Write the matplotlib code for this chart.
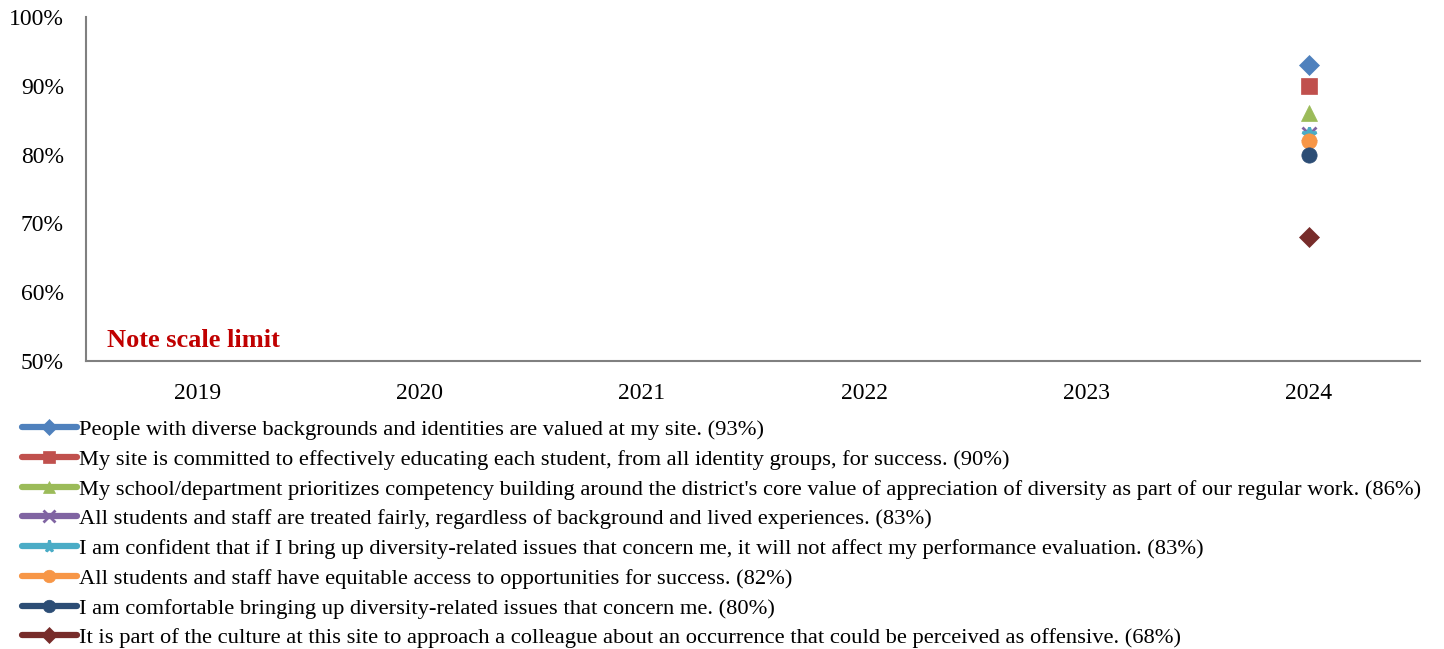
import numpy as np
import matplotlib
matplotlib.use("Agg")
import matplotlib.pyplot as plt

plt.rcParams['font.family'] = ['Liberation Serif', 'DejaVu Serif']

years = ["2019", "2020", "2021", "2022", "2023", "2024"]

statements = [
    "People with diverse backgrounds and identities are valued at my site. (93%)",
    "My site is committed to effectively educating each student, from all identity groups, for success. (90%)",
    "My school/department prioritizes competency building around the district's core value of appreciation of diversity as part of our regular work. (86%)",
    "All students and staff are treated fairly, regardless of background and lived experiences. (83%)",
    "I am confident that if I bring up diversity-related issues that concern me, it will not affect my performance evaluation. (83%)",
    "All students and staff have equitable access to opportunities for success. (82%)",
    "I am comfortable bringing up diversity-related issues that concern me. (80%)",
    "It is part of the culture at this site to approach a colleague about an occurrence that could be perceived as offensive. (68%)",
]

nan = np.nan
valued_at_site = [nan, nan, nan, nan, nan, 0.93]
committed_to_educating = [nan, nan, nan, nan, nan, 0.90]
competency_building = [nan, nan, nan, nan, nan, 0.86]
treated_fairly = [nan, nan, nan, nan, nan, 0.83]
confident_raising_issues = [nan, nan, nan, nan, nan, 0.83]
equitable_access = [nan, nan, nan, nan, nan, 0.82]
comfortable_raising_issues = [nan, nan, nan, nan, nan, 0.80]
approach_colleague = [nan, nan, nan, nan, nan, 0.68]

series = [valued_at_site, committed_to_educating, competency_building, treated_fairly,
          confident_raising_issues, equitable_access, comfortable_raising_issues,
          approach_colleague]

colors = ["#4F81BD", "#C0504D", "#9BBB59", "#8064A2", "#4BACC6", "#F79646", "#2C4D75", "#772C2A"]
markers = ["D", "s", "^", "x", "*", "o", "o", "D"]
msizes = [10, 11, 11, 10, 10, 11, 11, 10]

fig = plt.figure(figsize=(14.44, 6.49), dpi=100)
ax = fig.add_axes([0.0596, 0.4438, 0.9238, 0.5300])

x = np.arange(len(years))
handles = []
for vals, lab, c, m, ms in zip(series, statements, colors, markers, msizes):
    line, = ax.plot(x, vals, color=c, marker=m, markersize=ms, linewidth=4.5,
                    markeredgewidth=2 if m in ("x", "*") else 0.5,
                    markeredgecolor=c, solid_capstyle="round", label=lab)
    handles.append(line)

ax.set_xlim(-0.5, len(years) - 0.5)
ax.set_ylim(0.5, 1.0)
ax.set_xticks(x)
ax.set_xticklabels(years, fontsize=17)
ax.set_yticks(np.arange(0.5, 1.01, 0.1))
ax.set_yticklabels([f"{int(round(v * 100))}%" for v in np.arange(0.5, 1.01, 0.1)], fontsize=17)
ax.tick_params(axis="y", length=0, pad=16)
ax.tick_params(axis="x", length=0, pad=15.5)
for side in ("top", "right"):
    ax.spines[side].set_visible(False)
for side in ("left", "bottom"):
    ax.spines[side].set_color("#808080")
    ax.spines[side].set_linewidth(1.5)

ax.text(0.016, 0.025, "Note scale limit", transform=ax.transAxes, color="#C00000",
        fontsize=19, fontweight="bold", ha="left", va="bottom")

fig.legend(handles=handles, loc="upper left", bbox_to_anchor=(0.015, 0.354),
           frameon=False, fontsize=16.2, handlelength=2.45, handletextpad=0.12,
           labelspacing=0.40, borderaxespad=0, borderpad=0, markerscale=0.82)

fig.savefig("out.png", dpi=100)
